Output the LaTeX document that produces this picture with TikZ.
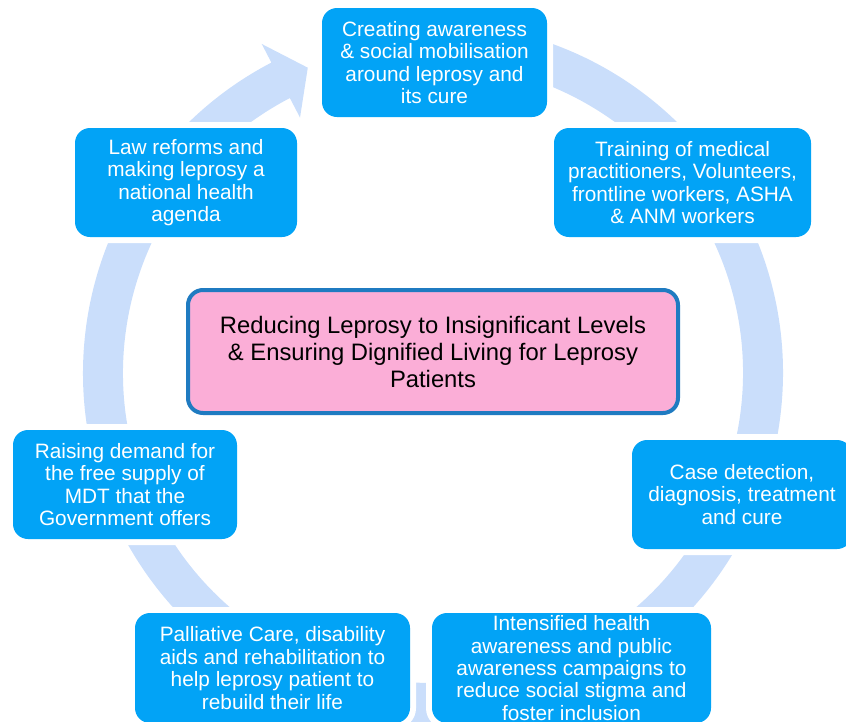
\documentclass[tikz,border=0pt]{standalone}
\usepackage{fontspec}
\setmainfont{Liberation Sans}
\usepackage{tikz}
\usepackage{xcolor}
\usetikzlibrary{positioning,calc}
\definecolor{boxblue}{HTML}{02A3F6}
\definecolor{ringblue}{HTML}{CADEFB}
\definecolor{goalpink}{HTML}{FBAED7}
\definecolor{goalrim}{HTML}{1F7BC1}
\tikzset{
  stagebox/.style={fill=boxblue,text=white,rounded corners=15pt,align=center,
                   inner sep=0pt,minimum height=109pt,
                   font=\fontsize{20.8}{22.4}\selectfont,
                   preaction={draw=white,line width=12pt}},
  goalbox/.style={draw=goalrim,fill=goalpink,line width=4pt,rounded corners=15pt,
                  align=center,inner sep=0pt,text=black,
                  font=\fontsize{23.8}{27}\selectfont}
}
\begin{document}
\begin{tikzpicture}[x=1pt,y=1pt]
    \useasboundingbox (0,0) rectangle (846,-721);

    \coordinate (ctr) at (433,-373);
    % cycle arrow behind the stages
    \fill[ringblue,shift={(ctr)}] (85:350) arc[start angle=85,end angle=-242.5,radius=350]
      -- (-242.5:371) -- (-247.7:330) -- (-242.5:288) -- (-242.5:310)
      arc[start angle=-242.5,end angle=85,radius=310] -- cycle;

    \node[stagebox,minimum width=225pt] (aware) at (434.5,-62.5)
      {Creating awareness\\\& social mobilisation\\around leprosy and\\its cure};
    \node[stagebox,minimum width=257pt] (train) at (682.5,-182.5)
      {Training of medical\\practitioners, Volunteers,\\frontline workers, ASHA\\\& ANM workers};
    \node[stagebox,minimum width=220pt] (detect) at (742,-494.5)
      {Case detection,\\diagnosis, treatment\\and cure};
    \node[stagebox,minimum width=279pt,minimum height=110pt] (campaign) at (571.5,-668)
      {Intensified health\\awareness and public\\awareness campaigns to\\reduce social stigma and\\foster inclusion};
    \node[stagebox,minimum width=275pt,minimum height=110pt] (care) at (272.5,-668)
      {Palliative Care, disability\\aids and rehabilitation to\\help leprosy patient to\\rebuild their life};
    \node[stagebox,minimum width=224pt] (demand) at (125,-484.5)
      {Raising demand for\\the free supply of\\MDT that the\\Government offers};
    \node[stagebox,minimum width=222pt] (law) at (186,-182.5)
      {Law reforms and\\making leprosy a\\national health\\agenda};

    \node[goalbox,minimum width=490pt,minimum height=123pt] (goal) at (433,-351.5)
      {Reducing Leprosy to Insignificant Levels\\\& Ensuring Dignified Living for Leprosy\\Patients};
\end{tikzpicture}
\end{document}
